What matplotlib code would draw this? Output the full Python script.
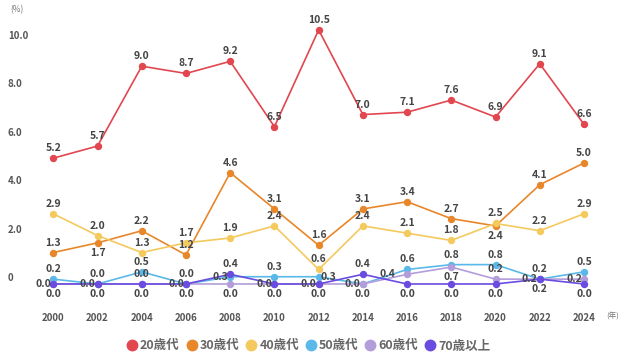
import matplotlib
matplotlib.use("Agg")
import matplotlib.pyplot as plt
from matplotlib.lines import Line2D

plt.rcParams['font.family'] = ['Noto Sans CJK JP', 'DejaVu Sans']

years = [2000, 2002, 2004, 2006, 2008, 2010, 2012, 2014, 2016, 2018, 2020, 2022, 2024]
series_names = ["20歳代", "30歳代", "40歳代", "50歳代", "60歳代", "70歳以上"]
v20 = [5.2, 5.7, 9.0, 8.7, 9.2, 6.5, 10.5, 7.0, 7.1, 7.6, 6.9, 9.1, 6.6]
v30 = [1.3, 1.7, 2.2, 1.2, 4.6, 3.1, 1.6, 3.1, 3.4, 2.7, 2.4, 4.1, 5.0]
v40 = [2.9, 2.0, 1.3, 1.7, 1.9, 2.4, 0.6, 2.4, 2.1, 1.8, 2.5, 2.2, 2.9]
v50 = [0.2, 0.0, 0.5, 0.0, 0.3, 0.3, 0.3, 0.0, 0.6, 0.8, 0.8, 0.2, 0.5]
v60 = [0.0, 0.0, 0.0, 0.0, 0.0, 0.0, 0.0, 0.0, 0.4, 0.7, 0.2, 0.2, 0.2]
v70 = [0.0, 0.0, 0.0, 0.0, 0.4, 0.0, 0.0, 0.4, 0.0, 0.0, 0.0, 0.2, 0.0]
yticks = [0, 2, 4, 6, 8, 10]
ytick_labels = ["0", "2.0", "4.0", "6.0", "8.0", "10.0"]

# styling
colors = ["#E2464F", "#E8862A", "#F4C95D", "#5AB9E8", "#B39DDB", "#6A4CE0"]
# label placement codes: a=above, b=below, l=left, L=far left, r=right
placements = [
    "aaaaaaaaaaaaa",
    "abaaaaaaaabaa",
    "aaaaaaaaaaaaa",
    "aaaalarlaaaaa",
    "llalbllbLball",
    "bbbbabbabbbbb",
]
offsets = {"a": (0, 10), "b": (0, -10), "l": (-10, 0), "L": (-20, 0), "r": (10, 0)}

W, H = 630, 357
fig = plt.figure(figsize=(W / 100, H / 100), dpi=100)
# axes placement in pixels
x0, x1 = 9.1, 628.2
y_top, y_bot = 17.8, 298.5
ax = fig.add_axes([x0 / W, 1 - y_bot / H, (x1 - x0) / W, (y_bot - y_top) / H])
ax.set_xlim(1998, 2026)
ax.set_ylim(-0.6, 11.0)
for s in ax.spines.values():
    s.set_visible(False)
ax.set_yticks([])
ax.set_xticks(years)
ax.set_xticklabels([str(y) for y in years], fontsize=7, fontweight="bold", color="#555555")
ax.tick_params(axis="x", length=0, pad=10.5)

all_vals = [v20, v30, v40, v50, v60, v70]
for vals, col, name in zip(all_vals, colors, series_names):
    ax.plot(years, vals, color=col, lw=1.2, marker="o", ms=4.3, mec=col, mfc=col, label=name)
for vals, plc in zip(all_vals, placements):
    for x, v, p in zip(years, vals, plc):
        dx, dy = offsets[p]
        ax.annotate(f"{v:.1f}", xy=(x, v), xytext=(dx, dy), textcoords="offset pixels",
                    ha="center", va="center", fontsize=7.5, fontweight="bold",
                    color="#444444", zorder=10)

for t, lbl in zip(yticks, ytick_labels):
    ax.annotate(lbl, xy=(0, t), xycoords=(fig.transFigure, ax.transData),
                xytext=(8, 6), textcoords="offset pixels", ha="left", va="center",
                fontsize=7, fontweight="bold", color="#555555")

fig.text(17 / W, 1 - 9.5 / H, "(%)", ha="center", va="center", fontsize=6, color="#777777")
fig.text(612.7 / W, 1 - 317 / H, "(年)", ha="center", va="center", fontsize=5.5, color="#777777")

handles = [Line2D([], [], ls="none", marker="o", ms=7.5, mfc=c, mec=c) for c in colors]
leg = fig.legend(handles, series_names, loc="center", bbox_to_anchor=(308 / W, 1 - 346 / H),
                 ncol=6, frameon=False, handletextpad=0.15, columnspacing=0.45,
                 handlelength=1.0, prop={"size": 9, "weight": "bold"})
for t in leg.get_texts():
    t.set_color("#666666")

fig.savefig("out.png", dpi=100)
